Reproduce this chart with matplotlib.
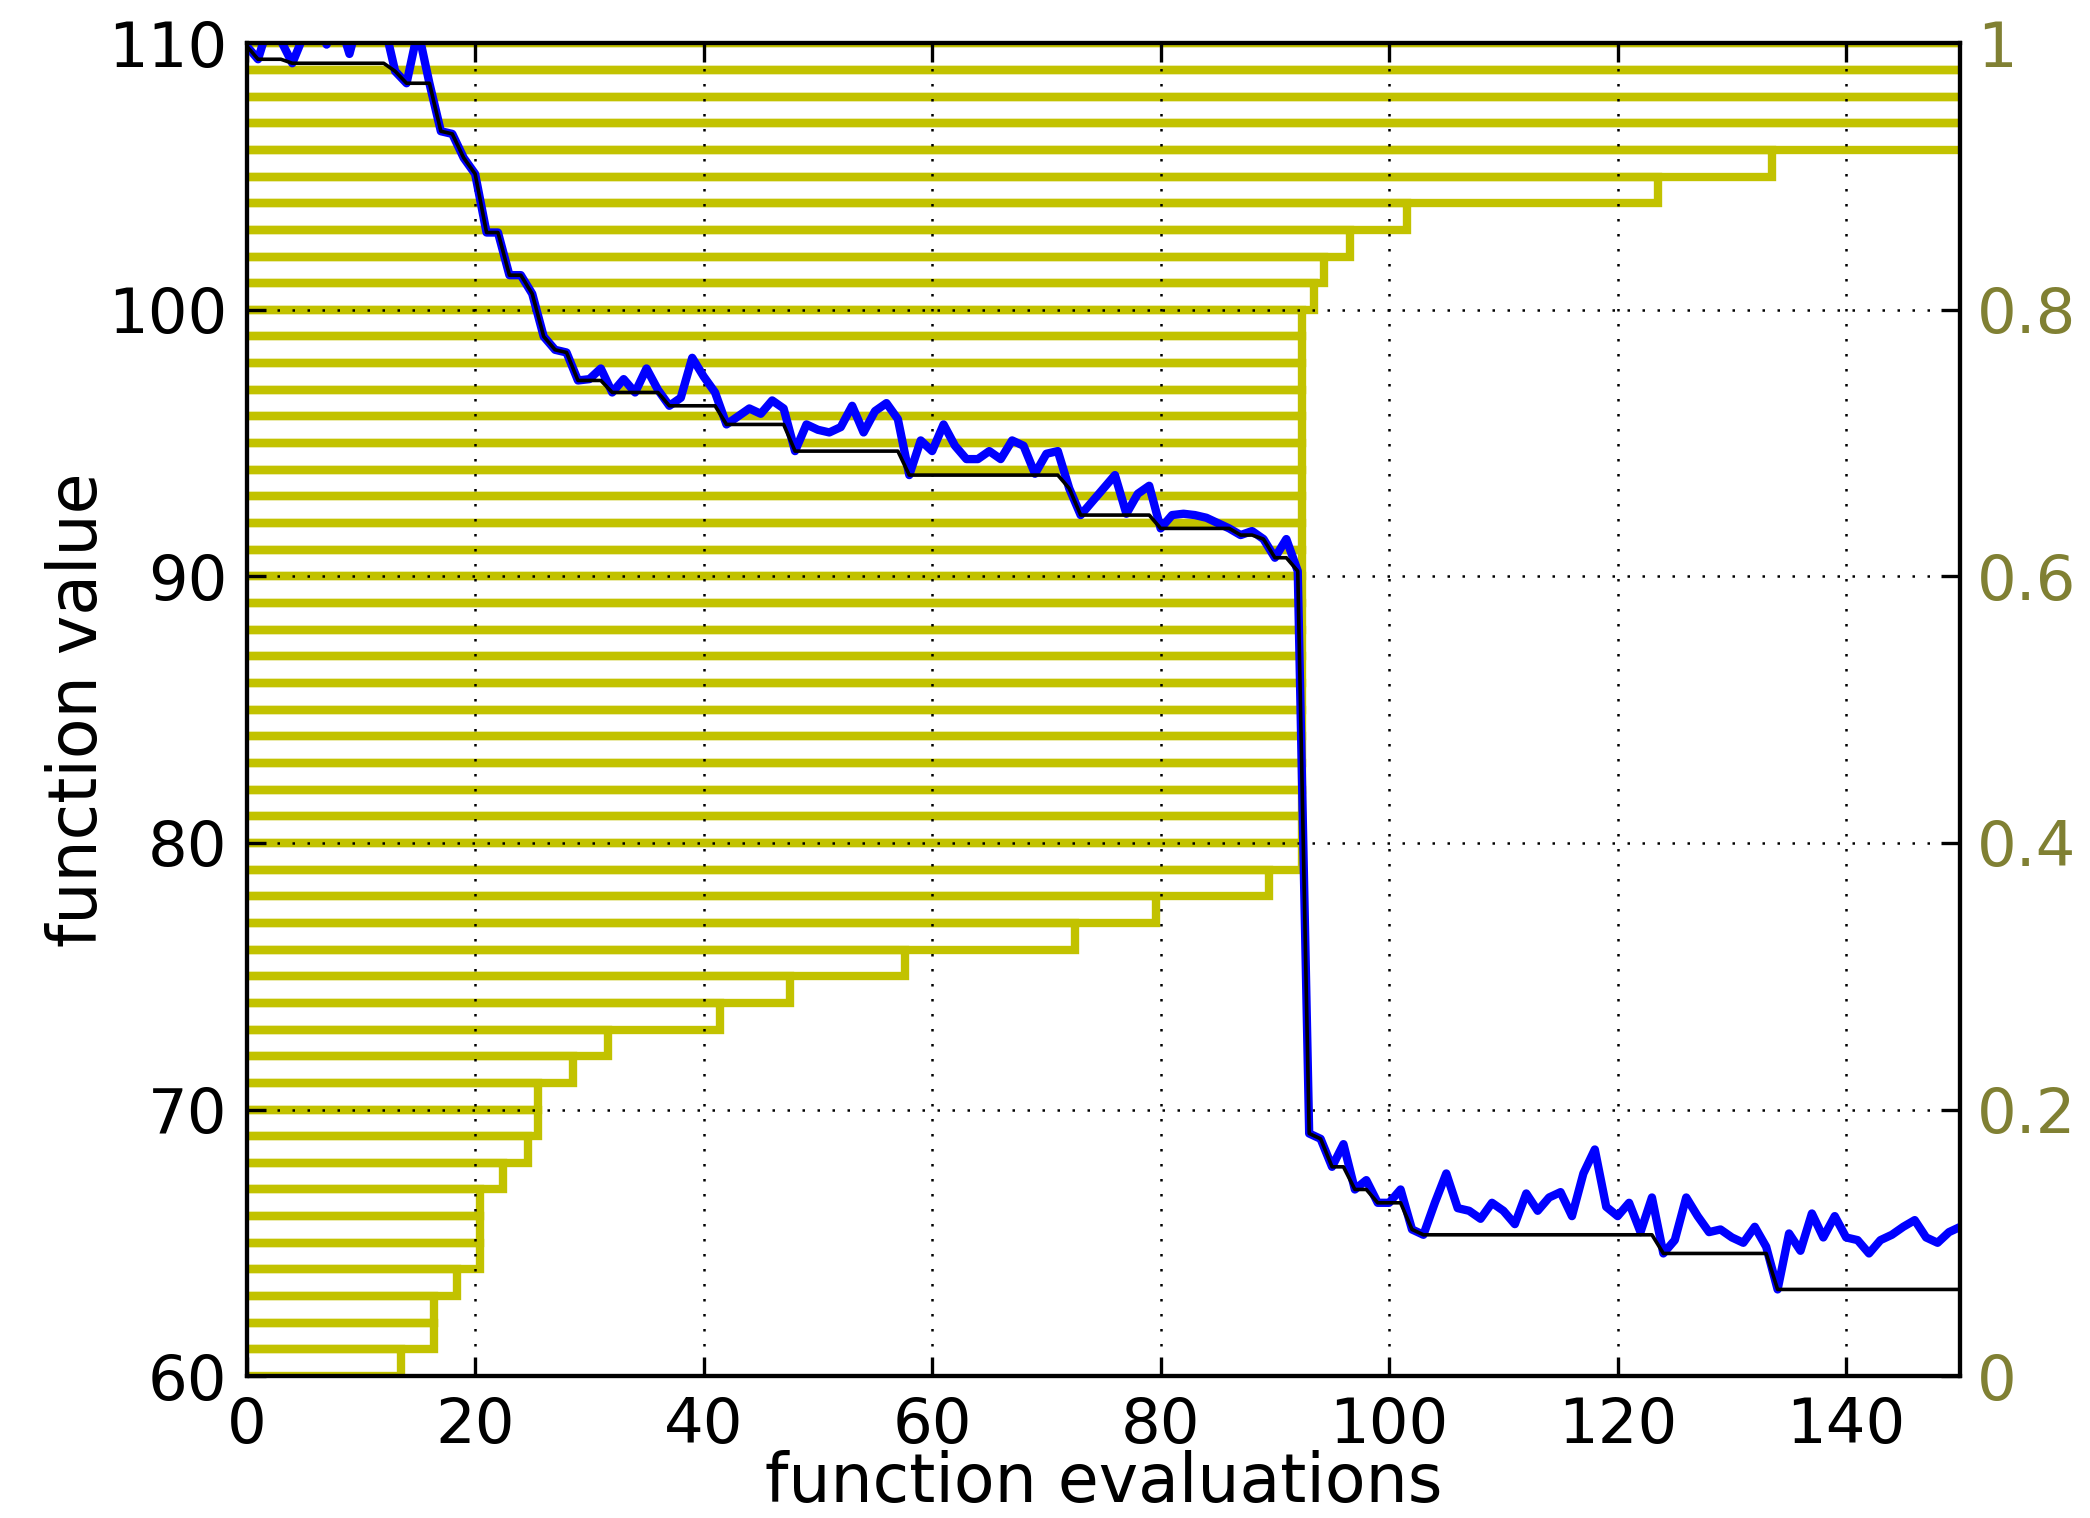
import numpy as np
import matplotlib
matplotlib.use('Agg')
import matplotlib.pyplot as plt

# f-value of every evaluation (one point per evaluation, x = 0..150)
fvals = [109.9, 109.4, 110.8, 110.1, 109.25, 110.3, 111.0, 109.95, 111.0, 109.6,
         111.2, 111.5, 110.8, 108.95, 108.5, 110.5, 108.5, 106.7, 106.6, 105.7,
         105.1, 102.9, 102.9, 101.3, 101.3, 100.6, 99.0, 98.5, 98.4, 97.35,
         97.4, 97.8, 96.9, 97.4, 96.9, 97.8, 97.0, 96.4, 96.7, 98.2,
         97.5, 96.9, 95.7, 96.0, 96.3, 96.1, 96.6, 96.3, 94.7, 95.7,
         95.5, 95.4, 95.6, 96.4, 95.4, 96.2, 96.5, 95.9, 93.8, 95.1,
         94.7, 95.7, 94.9, 94.4, 94.4, 94.7, 94.4, 95.1, 94.9, 93.85,
         94.6, 94.7, 93.3, 92.3, 92.8, 93.3, 93.8, 92.35, 93.1, 93.4,
         91.8, 92.3, 92.35, 92.3, 92.2, 92.0, 91.8, 91.55, 91.7, 91.4,
         90.7, 91.4, 90.2, 69.1, 68.9, 67.85, 68.7, 67.0, 67.35, 66.5,
         66.5, 67.0, 65.5, 65.3, 66.5, 67.6, 66.3, 66.2, 65.9, 66.5,
         66.2, 65.7, 66.85, 66.2, 66.7, 66.9, 66.0, 67.6, 68.5, 66.35,
         66.0, 66.5, 65.4, 66.7, 64.6, 65.1, 66.7, 66.0, 65.4, 65.5,
         65.2, 65.0, 65.6, 64.85, 63.25, 65.35, 64.7, 66.1, 65.2, 66.0,
         65.2, 65.1, 64.6, 65.1, 65.3, 65.6, 65.85, 65.2, 65.0, 65.4,
         65.6]

# evaluations needed per target, sorted (levels 0, 1/50, ..., 1)
cdf_evals = [13.5, 16.4, 16.4, 18.4, 20.4, 20.4, 20.4, 22.4, 24.6, 25.5,
             25.5, 28.6, 31.6, 41.4, 47.6, 57.6, 72.5, 79.6, 89.5] \
            + [92.4] * 21 \
            + [93.4, 94.3, 96.6, 101.6, 123.5, 133.5] \
            + [200.0] * 5

xticks = [0, 20, 40, 60, 80, 100, 120, 140]
yticks = [60, 70, 80, 90, 100, 110]
cdf_ticks = [0, 0.2, 0.4, 0.6, 0.8, 1.0]
cdf_ticklabels = ['0', '0.2', '0.4', '0.6', '0.8', '1']

evals = np.arange(len(fvals))
best = np.minimum.accumulate(fvals)

n = len(cdf_evals) - 1
cx, cy = [], []
for k, xk in enumerate(cdf_evals):
    cx += [0, xk, xk]
    cy += [k / n, k / n, (k + 1) / n]

olive = '#808033'
fig = plt.figure(figsize=(10.45, 7.59), dpi=200)
ax = fig.add_axes([0.118, 0.0935, 0.820, 0.878])
ax2 = ax.twinx()

ax2.plot(cx, cy, color='#c2c200', lw=3, solid_joinstyle='miter')
ax2.set_ylim(0, 1)
ax2.set_yticks(cdf_ticks)
ax2.set_yticklabels(cdf_ticklabels)
ax2.tick_params(direction='in', length=7, width=1.2, labelsize=22.5,
                labelcolor=olive, pad=6)

ax.plot(evals, fvals, color='b', lw=3)
ax.plot(evals, best, color='k', lw=1.3)
ax.set_xlim(0, 150)
ax.set_ylim(60, 110)
ax.set_xticks(xticks)
ax.set_yticks(yticks)
ax.grid(True, color='k', lw=0.9, linestyle=(0, (1, 5)))
ax.tick_params(direction='in', length=7, width=1.2, labelsize=22.5,
               top=True, right=False, pad=7)
ax.set_xlabel('function evaluations', fontsize=24, labelpad=-2)
ax.set_ylabel('function value', fontsize=24, labelpad=-1)

ax.set_zorder(ax2.get_zorder() + 1)
ax.patch.set_visible(False)
for a in (ax, ax2):
    for s in a.spines.values():
        s.set_linewidth(1.5)

fig.savefig('out.png', dpi=200)
